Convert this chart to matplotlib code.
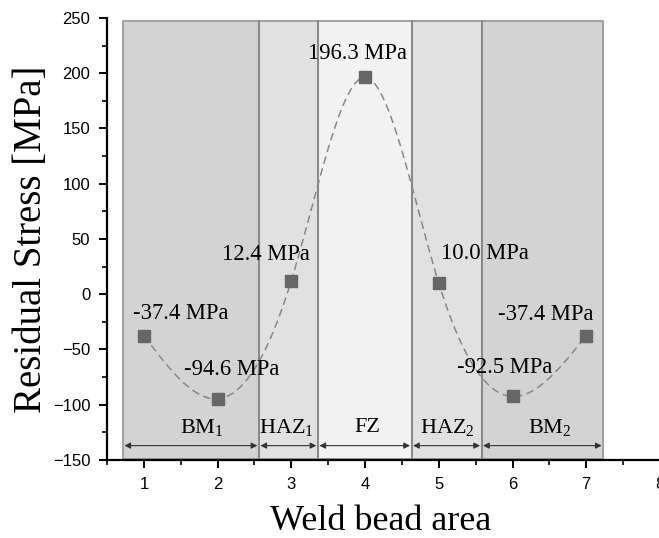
import numpy as np
import matplotlib
matplotlib.use("Agg")
import matplotlib.pyplot as plt
from matplotlib.ticker import MultipleLocator

plt.rcParams["mathtext.fontset"] = "custom"
plt.rcParams["mathtext.rm"] = "Liberation Serif"
plt.rcParams["mathtext.it"] = "Liberation Serif:italic"
plt.rcParams["mathtext.bf"] = "Liberation Serif:bold"

# ---- data ----
positions = [1, 2, 3, 4, 5, 6, 7]
stress = [-37.4, -94.6, 12.4, 196.3, 10.0, -92.5, -37.4]
labels = ["-37.4 MPa", "-94.6 MPa", "12.4 MPa", "196.3 MPa", "10.0 MPa", "-92.5 MPa", "-37.4 MPa"]
label_x = [1.50, 2.19, 2.65, 3.90, 5.63, 5.89, 6.45]
label_y = [-17, -68, 36, 218, 37, -66, -18]

zone_names = ["BM$_\\mathrm{1}$", "HAZ$_\\mathrm{1}$", "FZ", "HAZ$_\\mathrm{2}$", "BM$_\\mathrm{2}$"]
zone_edges = [0.715, 2.56, 3.36, 4.63, 5.58, 7.23]
zone_colors = ["#d3d3d3", "#e1e1e1", "#f2f2f2", "#e1e1e1", "#d3d3d3"]
zone_label_x = [1.79, 2.94, 4.03, 5.12, 6.50]

serif = ["Liberation Serif", "DejaVu Serif"]
sans = ["Liberation Sans", "DejaVu Sans"]


def natural_spline(x, y, n=400):
    x = np.asarray(x, float)
    y = np.asarray(y, float)
    k = len(x)
    h = np.diff(x)
    A = np.zeros((k, k))
    r = np.zeros(k)
    A[0, 0] = A[-1, -1] = 1
    for i in range(1, k - 1):
        A[i, i - 1] = h[i - 1]
        A[i, i] = 2 * (h[i - 1] + h[i])
        A[i, i + 1] = h[i]
        r[i] = 6 * ((y[i + 1] - y[i]) / h[i] - (y[i] - y[i - 1]) / h[i - 1])
    M = np.linalg.solve(A, r)
    xs = np.linspace(x[0], x[-1], n)
    ys = np.empty_like(xs)
    for j, t in enumerate(xs):
        i = min(np.searchsorted(x, t, side="right") - 1, k - 2)
        a = x[i + 1] - t
        b = t - x[i]
        ys[j] = (M[i] * a ** 3 + M[i + 1] * b ** 3) / (6 * h[i]) \
            + (y[i] / h[i] - M[i] * h[i] / 6) * a + (y[i + 1] / h[i] - M[i + 1] * h[i] / 6) * b
    return xs, ys


fig = plt.figure(figsize=(6.59, 5.38), dpi=100)
ax = fig.add_axes([0.1624, 0.145, 0.895, 0.8216])

ybot, ytop = -149.4, 247.7
for i, c in enumerate(zone_colors):
    ax.fill_between([zone_edges[i], zone_edges[i + 1]], ybot, ytop, color=c,
                    edgecolor="none", zorder=0)
ax.plot([zone_edges[0], zone_edges[-1], zone_edges[-1], zone_edges[0], zone_edges[0]],
        [ybot, ybot, ytop, ytop, ybot], color="#9a9a9a", lw=1.3, zorder=1)
for e in zone_edges[1:-1]:
    ax.plot([e, e], [ybot, ytop], color="#8a8a8a", lw=1.5, zorder=1)

# arrows
arrow_y = -137
for i in range(len(zone_names)):
    ax.annotate("", xy=(zone_edges[i] + 0.02, arrow_y), xytext=(zone_edges[i + 1] - 0.02, arrow_y),
                arrowprops=dict(arrowstyle="<|-|>", color="#333333", lw=0.8,
                                mutation_scale=9, shrinkA=0, shrinkB=0), zorder=3)
    ax.text(zone_label_x[i], -121, zone_names[i], ha="center", va="center",
            fontsize=16, family=serif, zorder=4)

xs, ys = natural_spline(positions, stress)
ax.plot(xs, ys, color="#888888", lw=1.1, ls=(0, (5, 3)), zorder=2)
ax.plot(positions, stress, ls="none", marker="s", markersize=8.5, color="#666666", zorder=3)

for tx, ty, t in zip(label_x, label_y, labels):
    ax.text(tx, ty, t, ha="center", va="center", fontsize=16.3, family=serif, zorder=4)

ax.set_xlim(0.5, 8.5)
ax.set_ylim(-150, 250)
ax.spines["top"].set_visible(False)
ax.spines["right"].set_visible(False)
for s in ("left", "bottom"):
    ax.spines[s].set_linewidth(1.6)
ax.xaxis.set_major_locator(MultipleLocator(1))
ax.xaxis.set_minor_locator(MultipleLocator(0.5))
ax.yaxis.set_major_locator(MultipleLocator(50))
ax.yaxis.set_minor_locator(MultipleLocator(25))
ax.tick_params(which="major", direction="out", length=6, width=1.4, labelsize=12, pad=6)
ax.tick_params(which="minor", direction="out", length=3.5, width=1.2)
for lab in ax.get_xticklabels() + ax.get_yticklabels():
    lab.set_family(sans)

ax.set_xlabel("Weld bead area", fontsize=26, family=serif, va="baseline")
ax.xaxis.set_label_coords(0.464, -0.159)
ax.set_ylabel("Residual Stress [MPa]", fontsize=28, family=serif)
ax.yaxis.set_label_coords(-0.096, 0.5)

fig.savefig("out.png", dpi=100)
